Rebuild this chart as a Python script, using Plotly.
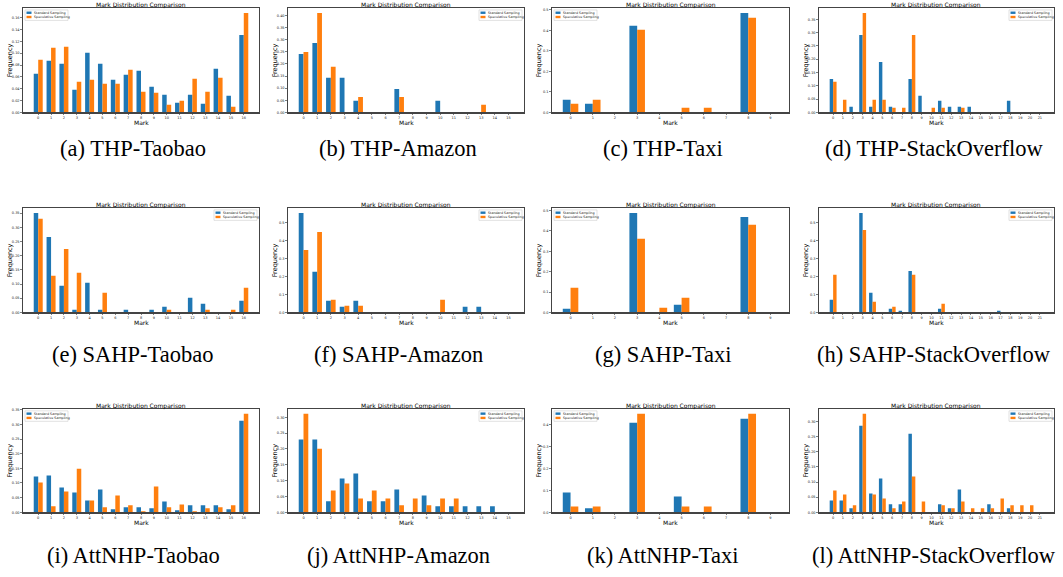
import plotly.graph_objects as go

SERIES_NAMES = ["Standard Sampling", "Speculative Sampling"]
COLORS = ["#1f77b4", "#ff7f0e"]
TITLE = "Mark Distribution Comparison"
X_LABEL = "Mark"
Y_LABEL = "Frequency"

captions = ["(a) THP-Taobao", "(b) THP-Amazon", "(c) THP-Taxi", "(d) THP-StackOverflow",
            "(e) SAHP-Taobao", "(f) SAHP-Amazon", "(g) SAHP-Taxi", "(h) SAHP-StackOverflow",
            "(i) AttNHP-Taobao", "(j) AttNHP-Amazon", "(k) AttNHP-Taxi", "(l) AttNHP-StackOverflow"]

thp_taobao_std = [0.0652, 0.0871, 0.0820, 0.0382, 0.1006, 0.0820, 0.0550, 0.0635, 0.0702, 0.0433, 0.0298, 0.0163, 0.0298, 0.0146, 0.0736, 0.0281, 0.1309]
thp_taobao_spec = [0.0888, 0.1090, 0.1107, 0.0517, 0.0550, 0.0483, 0.0483, 0.0719, 0.0348, 0.0331, 0.0129, 0.0197, 0.0567, 0.0348, 0.0584, 0.0096, 0.1680]

thp_amazon_std = [0.241, 0.286, 0.1425, 0.1425, 0.048, 0, 0, 0.097, 0, 0, 0.048, 0, 0, 0, 0, 0]
thp_amazon_spec = [0.249, 0.410, 0.188, 0, 0.064, 0, 0, 0.064, 0, 0, 0, 0, 0, 0.0315, 0, 0]

thp_taxi_std = [0.0617, 0.042, 0, 0.422, 0, 0, 0, 0, 0.485, 0]
thp_taxi_spec = [0.042, 0.0617, 0, 0.4026, 0, 0.0227, 0.0227, 0, 0.461, 0]

thp_so_std = [0.126, 0, 0.021, 0.291, 0.021, 0.19, 0.021, 0, 0.126, 0.0625, 0, 0.044, 0.021, 0.021, 0.021, 0, 0, 0, 0.044, 0, 0, 0]
thp_so_spec = [0.115, 0.0475, 0, 0.374, 0.0475, 0.0475, 0.0175, 0.0175, 0.291, 0, 0.0175, 0.0175, 0, 0.0175, 0, 0, 0, 0, 0, 0, 0, 0]

sahp_taobao_std = [0.351, 0.266, 0.094, 0.0094, 0.1045, 0.0094, 0, 0.0094, 0, 0.0094, 0.020, 0, 0.0516, 0.0305, 0, 0, 0.041]
sahp_taobao_spec = [0.330, 0.129, 0.224, 0.140, 0, 0.069, 0, 0, 0, 0, 0.0094, 0, 0, 0.0094, 0, 0.0094, 0.087]

sahp_amazon_std = [0.554, 0.226, 0.065, 0.0315, 0.065, 0, 0, 0, 0, 0, 0, 0, 0.0315, 0.0315, 0, 0]
sahp_amazon_spec = [0.348, 0.448, 0.070, 0.037, 0.037, 0, 0, 0, 0, 0, 0.070, 0, 0, 0, 0, 0]

sahp_taxi_std = [0.018, 0, 0, 0.4886, 0, 0.0376, 0, 0, 0.469, 0]
sahp_taxi_spec = [0.121, 0, 0, 0.361, 0.0229, 0.072, 0, 0, 0.430, 0]

sahp_so_std = [0.070, 0, 0, 0.552, 0.109, 0, 0.020, 0.0092, 0.230, 0, 0, 0.020, 0, 0, 0, 0, 0, 0.0092, 0, 0, 0, 0]
sahp_so_spec = [0.2085, 0, 0, 0.4576, 0.059, 0, 0.0314, 0, 0.2085, 0, 0, 0.048, 0, 0, 0, 0, 0, 0, 0, 0, 0, 0]

attnhp_taobao_std = [0.122, 0.1256, 0.085, 0.068, 0.0407, 0.078, 0.0102, 0.017, 0.017, 0.0136, 0.0373, 0.0068, 0.0238, 0.0238, 0.0238, 0.0102, 0.312]
attnhp_taobao_spec = [0.102, 0.0204, 0.0713, 0.149, 0.0407, 0.017, 0.0577, 0.0238, 0.0034, 0.088, 0.017, 0.027, 0.0034, 0.0136, 0.017, 0.0238, 0.336]

attnhp_amazon_std = [0.2296, 0.2296, 0.0346, 0.107, 0.1226, 0.0346, 0.0346, 0.0723, 0, 0.0535, 0.0189, 0.0189, 0.0189, 0.0189, 0.0189, 0]
attnhp_amazon_spec = [0.311, 0.201, 0.069, 0.091, 0.044, 0.069, 0.044, 0.022, 0.044, 0.022, 0.044, 0.044, 0, 0, 0, 0]

attnhp_taxi_std = [0.0905, 0.018, 0, 0.407, 0, 0.0724, 0, 0, 0.425, 0]
attnhp_taxi_spec = [0.027, 0.027, 0, 0.448, 0, 0.027, 0.027, 0, 0.448, 0]

attnhp_so_std = [0.0394, 0.0394, 0.0131, 0.2856, 0.0624, 0.1116, 0.0263, 0.0263, 0.259, 0, 0, 0.0263, 0.0131, 0.0755, 0, 0, 0.0263, 0, 0.0131, 0, 0, 0]
attnhp_so_spec = [0.0722, 0.059, 0.023, 0.325, 0.059, 0.046, 0.0131, 0.036, 0.118, 0.036, 0, 0.023, 0.0131, 0.036, 0.0131, 0.0131, 0.0131, 0.046, 0.023, 0.023, 0.023, 0]

panel_data = [
    (thp_taobao_std, thp_taobao_spec), (thp_amazon_std, thp_amazon_spec),
    (thp_taxi_std, thp_taxi_spec), (thp_so_std, thp_so_spec),
    (sahp_taobao_std, sahp_taobao_spec), (sahp_amazon_std, sahp_amazon_spec),
    (sahp_taxi_std, sahp_taxi_spec), (sahp_so_std, sahp_so_spec),
    (attnhp_taobao_std, attnhp_taobao_spec), (attnhp_amazon_std, attnhp_amazon_spec),
    (attnhp_taxi_std, attnhp_taxi_spec), (attnhp_so_std, attnhp_so_spec),
]
y_dticks = [0.02, 0.05, 0.1, 0.05, 0.05, 0.1, 0.1, 0.1, 0.05, 0.05, 0.1, 0.05]
y_formats = [".2f", ".2f", ".1f", ".2f", ".2f", ".1f", ".1f", ".1f", ".2f", ".2f", ".1f", ".2f"]
legend_side = ["left", "right", "left", "right", "right", "right", "left", "right", "left", "right", "left", "right"]

# ---- layout geometry (pixels) ----
W, H = 1063, 577
col_px = [(23, 259), (288, 524), (552, 789), (819, 1054)]
row_px = [(7, 112), (208, 313), (410, 514)]
cap_x = [133, 398, 663, 934]
cap_y = [148, 355, 557]

def px(x):
    return x / W

def py(y):
    return 1 - y / H

fig = go.Figure()
layout = dict(width=W, height=H, margin=dict(l=0, r=0, t=0, b=0),
              paper_bgcolor="white", plot_bgcolor="white",
              barmode="group", bargap=0.3, bargroupgap=0.0,
              showlegend=False, hovermode=False,
              font=dict(family="DejaVu Sans", color="black"))
annotations = []
shapes = []

for i, (std, spec) in enumerate(panel_data):
    r, c = divmod(i, 4)
    x0, x1 = col_px[c]
    y0, y1 = row_px[r]
    n = len(std)
    marks = list(range(n))
    sfx = "" if i == 0 else str(i + 1)
    for k, vals in enumerate((std, spec)):
        fig.add_trace(go.Bar(x=marks, y=vals, name=SERIES_NAMES[k],
                             marker=dict(color=COLORS[k], line=dict(width=0)),
                             xaxis="x" + sfx, yaxis="y" + sfx, showlegend=False))
    span = (n - 1) + 0.7
    xr = [-0.35 - 0.05 * span, n - 1 + 0.35 + 0.05 * span]
    ymax = max(max(std), max(spec)) * 1.05
    axis_common = dict(showline=True, mirror=True, linecolor="#444", linewidth=1.2,
                       showgrid=False, zeroline=False, ticks="outside", ticklen=1.5,
                       tickwidth=0.5, tickcolor="black",
                       tickfont=dict(size=3.5, family="DejaVu Sans", color="#222"))
    layout["xaxis" + sfx] = dict(domain=[px(x0), px(x1)], anchor="y" + sfx, range=xr,
                                 tickmode="array", tickvals=marks,
                                 ticktext=[str(m) for m in marks], **axis_common)
    layout["yaxis" + sfx] = dict(domain=[py(y1), py(y0)], anchor="x" + sfx, range=[0, ymax],
                                 dtick=y_dticks[i], tick0=0, tickformat=y_formats[i],
                                 **axis_common)
    cx = (x0 + x1) / 2
    cy = (y0 + y1) / 2
    annotations.append(dict(text=TITLE, x=px(cx), y=py(y0 - 3), xref="paper", yref="paper",
                            xanchor="center", yanchor="middle", showarrow=False, borderpad=0,
                            font=dict(size=6, family="DejaVu Sans", color="black")))
    annotations.append(dict(text=X_LABEL, x=px(cx), y=py(y1 + 10.5), xref="paper", yref="paper",
                            xanchor="center", yanchor="middle", showarrow=False, borderpad=0,
                            font=dict(size=6, family="DejaVu Sans", color="black")))
    annotations.append(dict(text=Y_LABEL, x=px(x0 - 13), y=py(cy), xref="paper", yref="paper",
                            xanchor="center", yanchor="middle", textangle=-90, showarrow=False,
                            font=dict(size=6.5, family="DejaVu Sans", color="black")))
    annotations.append(dict(text=captions[i], x=px(cap_x[c]), y=py(cap_y[r]), xref="paper", yref="paper",
                            xanchor="center", yanchor="middle", showarrow=False, borderpad=0,
                            font=dict(size=22.5, family="Liberation Serif", color="black")))
    # legend box (matplotlib-style, upper left / upper right)
    lw, lh = 43, 10.5
    lx0 = x0 + 2 if legend_side[i] == "left" else x1 - 2 - lw
    ly0 = y0 + 2
    shapes.append(dict(type="rect", xref="paper", yref="paper",
                       x0=px(lx0), x1=px(lx0 + lw), y0=py(ly0 + lh), y1=py(ly0),
                       line=dict(color="#cccccc", width=0.6), fillcolor="rgba(255,255,255,0.8)"))
    for k in range(2):
        sy = ly0 + 1.6 + k * 4.3
        shapes.append(dict(type="rect", xref="paper", yref="paper",
                           x0=px(lx0 + 1.5), x1=px(lx0 + 6.5), y0=py(sy + 2.4), y1=py(sy),
                           line=dict(width=0), fillcolor=COLORS[k]))
        annotations.append(dict(text=SERIES_NAMES[k], x=px(lx0 + 8.3), y=py(sy + 1.2),
                                xref="paper", yref="paper", xanchor="left", yanchor="middle",
                                showarrow=False, borderpad=0,
                                font=dict(size=3.3, family="DejaVu Sans", color="#222")))

layout["annotations"] = annotations
layout["shapes"] = shapes
fig.update_layout(**layout)
fig.write_html("out.html", config={"displayModeBar": False, "staticPlot": True},
               post_script="document.body.style.margin='0';document.body.style.overflow='hidden';")
